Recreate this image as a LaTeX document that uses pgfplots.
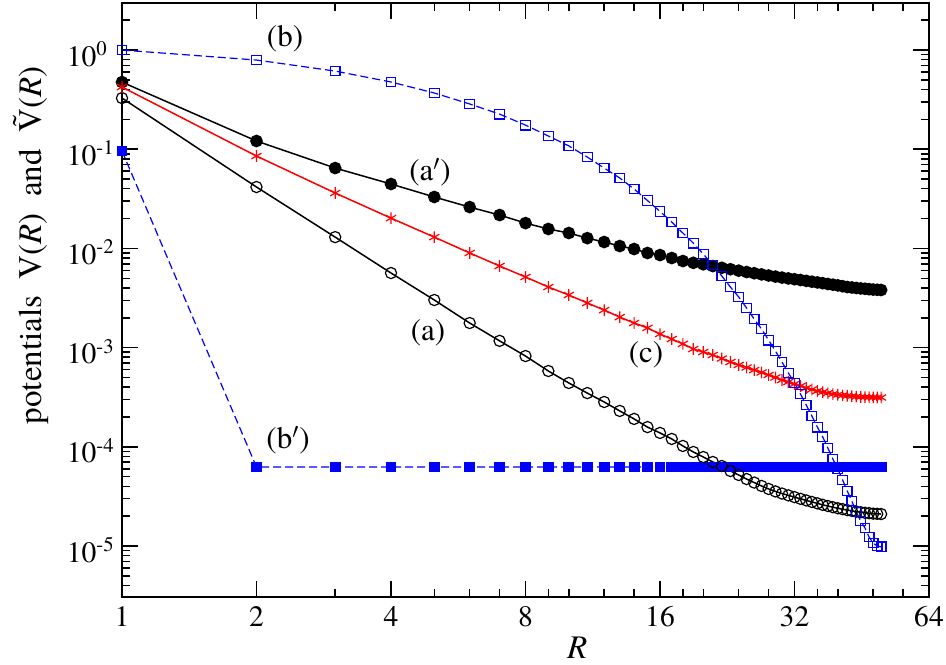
\documentclass[border=0pt]{standalone}
\usepackage{pgfplots}
\pgfplotsset{compat=1.18}
\usepackage{fontspec}
\IfFontExistsTF{TeX Gyre Termes}{\setmainfont{TeX Gyre Termes}}{\setmainfont{Liberation Serif}}
\definecolor{gblue}{RGB}{0,0,255}
\definecolor{gred}{RGB}{255,0,0}
\newcommand{\tl}[1]{10\textsuperscript{#1}}
\newcommand{\pr}{\ensuremath{'}}
\begin{document}
\begin{tikzpicture}[font=\rmfamily\fontsize{15.5}{18}\selectfont]
\useasboundingbox (-61pt,-33.5pt) rectangle (412pt,298.5pt);
\begin{axis}[
  at={(0,0)}, anchor=south west,
  scale only axis, width=403.5pt, height=297pt,
  xmode=log, ymode=log,
  xmin=1, xmax=64, ymin=3.06e-6, ymax=2.98,
  clip=false,
  xtick={1,2,4,8,16,32,64}, xticklabels={1,2,4,8,16,32,64},
  minor xtick={3,5,6,7,9,10,12,14,18,20,24,28,36,40,48,56},
  ytick={1e-5,1e-4,1e-3,1e-2,1e-1,1},
  yticklabels={\tl{-5},\tl{-4},\tl{-3},\tl{-2},\tl{-1},\tl{0}},
  minor ytick={4e-6,5e-6,6e-6,7e-6,8e-6,9e-6,
    2e-5,3e-5,4e-5,5e-5,6e-5,7e-5,8e-5,9e-5,
    2e-4,3e-4,4e-4,5e-4,6e-4,7e-4,8e-4,9e-4,
    2e-3,3e-3,4e-3,5e-3,6e-3,7e-3,8e-3,9e-3,
    2e-2,3e-2,4e-2,5e-2,6e-2,7e-2,8e-2,9e-2,
    0.2,0.3,0.4,0.5,0.6,0.7,0.8,0.9,2},
  tick align=inside, major tick length=8pt, minor tick length=4pt,
  every tick/.style={black, line width=0.75pt},
  axis line style={line width=1pt},
  yticklabel style={font=\rmfamily\fontsize{14.8}{17}\selectfont, anchor=west, inner sep=0pt, xshift=-27.75pt, yshift=-2pt},
  xticklabel style={font=\rmfamily\fontsize{14.8}{17}\selectfont, yshift=-1pt},
  xlabel={\rmfamily\fontsize{16.5}{19}\selectfont\itshape R},
  every axis x label/.style={at={(rel axis cs:0.564,-0.104)}, anchor=base, inner sep=0pt},
  ylabel={\rmfamily\fontsize{16.5}{19}\selectfont potentials\ \ V(\textit{R})\ \ and\ \ {\accent"02DC V}(\textit{R})},
  every axis y label/.style={at={(rel axis cs:-0.1128,0.592)}, rotate=90, anchor=center},
]
% (b') filled blue squares
\addplot[gblue, dashed, dash pattern=on 4pt off 2pt, line width=0.6pt, mark=square*, mark size=2.4pt, mark options={solid}] coordinates {
(1,0.096)(2,6.25e-5)(3,6.25e-5)(4,6.25e-5)(5,6.25e-5)(6,6.25e-5)(7,6.25e-5)(8,6.25e-5)(9,6.25e-5)(10,6.25e-5)
(11,6.25e-5)(12,6.25e-5)(13,6.25e-5)(14,6.25e-5)(15,6.25e-5)(16,6.25e-5)(17,6.25e-5)(18,6.25e-5)(19,6.25e-5)(20,6.25e-5)
(21,6.25e-5)(22,6.25e-5)(23,6.25e-5)(24,6.25e-5)(25,6.25e-5)(26,6.25e-5)(27,6.25e-5)(28,6.25e-5)(29,6.25e-5)(30,6.25e-5)
(31,6.25e-5)(32,6.25e-5)(33,6.25e-5)(34,6.25e-5)(35,6.25e-5)(36,6.25e-5)(37,6.25e-5)(38,6.25e-5)(39,6.25e-5)(40,6.25e-5)
(41,6.25e-5)(42,6.25e-5)(43,6.25e-5)(44,6.25e-5)(45,6.25e-5)(46,6.25e-5)(47,6.25e-5)(48,6.25e-5)(49,6.25e-5)(50,6.25e-5)};
% (a) open circles
\addplot[black, line width=0.75pt, mark=o, mark size=2.8pt, mark options={line width=0.6pt}] coordinates {
(1,0.328)(2,0.0416)(3,0.0130)(4,0.00565)(5,0.00302)(6,0.00177)(7,0.00117)(8,0.000822)(9,0.000581)(10,0.000440)
(11,0.000348)(12,0.000283)(13,0.000230)(14,0.000191)(15,0.000158)(16,0.000138)(17,0.000120)(18,0.000102)(19,8.87e-5)(20,7.89e-5)
(21,7.03e-5)(22,6.40e-5)(23,5.70e-5)(24,5.20e-5)(25,4.73e-5)(26,4.36e-5)(27,4.03e-5)(28,3.76e-5)(29,3.55e-5)(30,3.38e-5)
(31,3.24e-5)(32,3.11e-5)(33,2.99e-5)(34,2.88e-5)(35,2.78e-5)(36,2.69e-5)(37,2.60e-5)(38,2.53e-5)(39,2.46e-5)(40,2.40e-5)
(41,2.35e-5)(42,2.30e-5)(43,2.26e-5)(44,2.22e-5)(45,2.19e-5)(46,2.16e-5)(47,2.14e-5)(48,2.12e-5)(49,2.11e-5)(50,2.10e-5)};
% (a') filled circles
\addplot[black, line width=0.75pt, mark=*, mark size=2.8pt] coordinates {
(1,0.475)(2,0.121)(3,0.0646)(4,0.0446)(5,0.0330)(6,0.0261)(7,0.0217)(8,0.0180)(9,0.0157)(10,0.0143)
(11,0.0127)(12,0.0116)(13,0.01057)(14,0.00986)(15,0.00899)(16,0.00857)(17,0.00800)(18,0.00746)(19,0.00716)(20,0.00692)
(21,0.00664)(22,0.00638)(23,0.00617)(24,0.00597)(25,0.00578)(26,0.00562)(27,0.00547)(28,0.00533)(29,0.00520)(30,0.00508)
(31,0.00498)(32,0.00489)(33,0.00480)(34,0.00471)(35,0.00462)(36,0.00454)(37,0.00446)(38,0.00438)(39,0.00431)(40,0.00424)
(41,0.00416)(42,0.00408)(43,0.00404)(44,0.00399)(45,0.00395)(46,0.00392)(47,0.00388)(48,0.00385)(49,0.00383)(50,0.00381)};
% (c) red asterisks
\addplot[gred, line width=0.75pt, mark=asterisk, mark size=2.9pt, mark options={line width=0.6pt}] coordinates {
(1,0.424)(2,0.0854)(3,0.0362)(4,0.0202)(5,0.0130)(6,0.0090)(7,0.00665)(8,0.00515)(9,0.00408)(10,0.00339)
(11,0.00282)(12,0.00239)(13,0.00203)(14,0.00177)(15,0.00158)(16,0.00137)(17,0.00122)(18,0.00109)(19,0.000968)(20,0.000903)
(21,0.000842)(22,0.000776)(23,0.000716)(24,0.000668)(25,0.000630)(26,0.000594)(27,0.000561)(28,0.000530)(29,0.000500)(30,0.000471)
(31,0.000450)(32,0.000430)(33,0.000410)(34,0.000392)(35,0.000378)(36,0.000365)(37,0.000356)(38,0.000348)(39,0.000340)(40,0.000335)
(41,0.000330)(42,0.000327)(43,0.000324)(44,0.000321)(45,0.000318)(46,0.000317)(47,0.000316)(48,0.000315)(49,0.000314)(50,0.000314)};
% (b) open blue squares
\addplot[gblue, dashed, dash pattern=on 4pt off 2pt, line width=0.6pt, mark=square, mark size=2.4pt, mark options={solid, line width=0.6pt}] coordinates {
(1,1.0)(2,0.793)(3,0.614)(4,0.476)(5,0.369)(6,0.286)(7,0.226)(8,0.175)(9,0.136)(10,0.108)
(11,0.0834)(12,0.0646)(13,0.0513)(14,0.0397)(15,0.0304)(16,0.0236)(17,0.0185)(18,0.0143)(19,0.0113)(20,0.00878)
(21,0.00680)(22,0.00527)(23,0.00408)(24,0.00324)(25,0.00251)(26,0.00194)(27,0.00154)(28,0.00119)(29,0.000924)(30,0.000716)
(31,0.000555)(32,0.000440)(33,0.000340)(34,0.000264)(35,0.000204)(36,0.000158)(37,0.000126)(38,9.73e-5)(39,7.53e-5)(40,5.97e-5)
(41,4.63e-5)(42,3.58e-5)(43,2.84e-5)(44,2.20e-5)(45,1.79e-5)(46,1.52e-5)(47,1.23e-5)(48,1.07e-5)(49,1.00e-5)(50,9.8e-6)};
\node at (axis cs:2.317,1.29) {(b)};
\node at (axis cs:4.89,0.0589) {(a\pr)};
\node at (axis cs:4.84,0.0014) {(a)};
\node at (axis cs:14.89,8.42e-4) {(c)};
\node at (axis cs:2.353,1.17e-4) {(b\pr)};
\end{axis}
\end{tikzpicture}
\end{document}
